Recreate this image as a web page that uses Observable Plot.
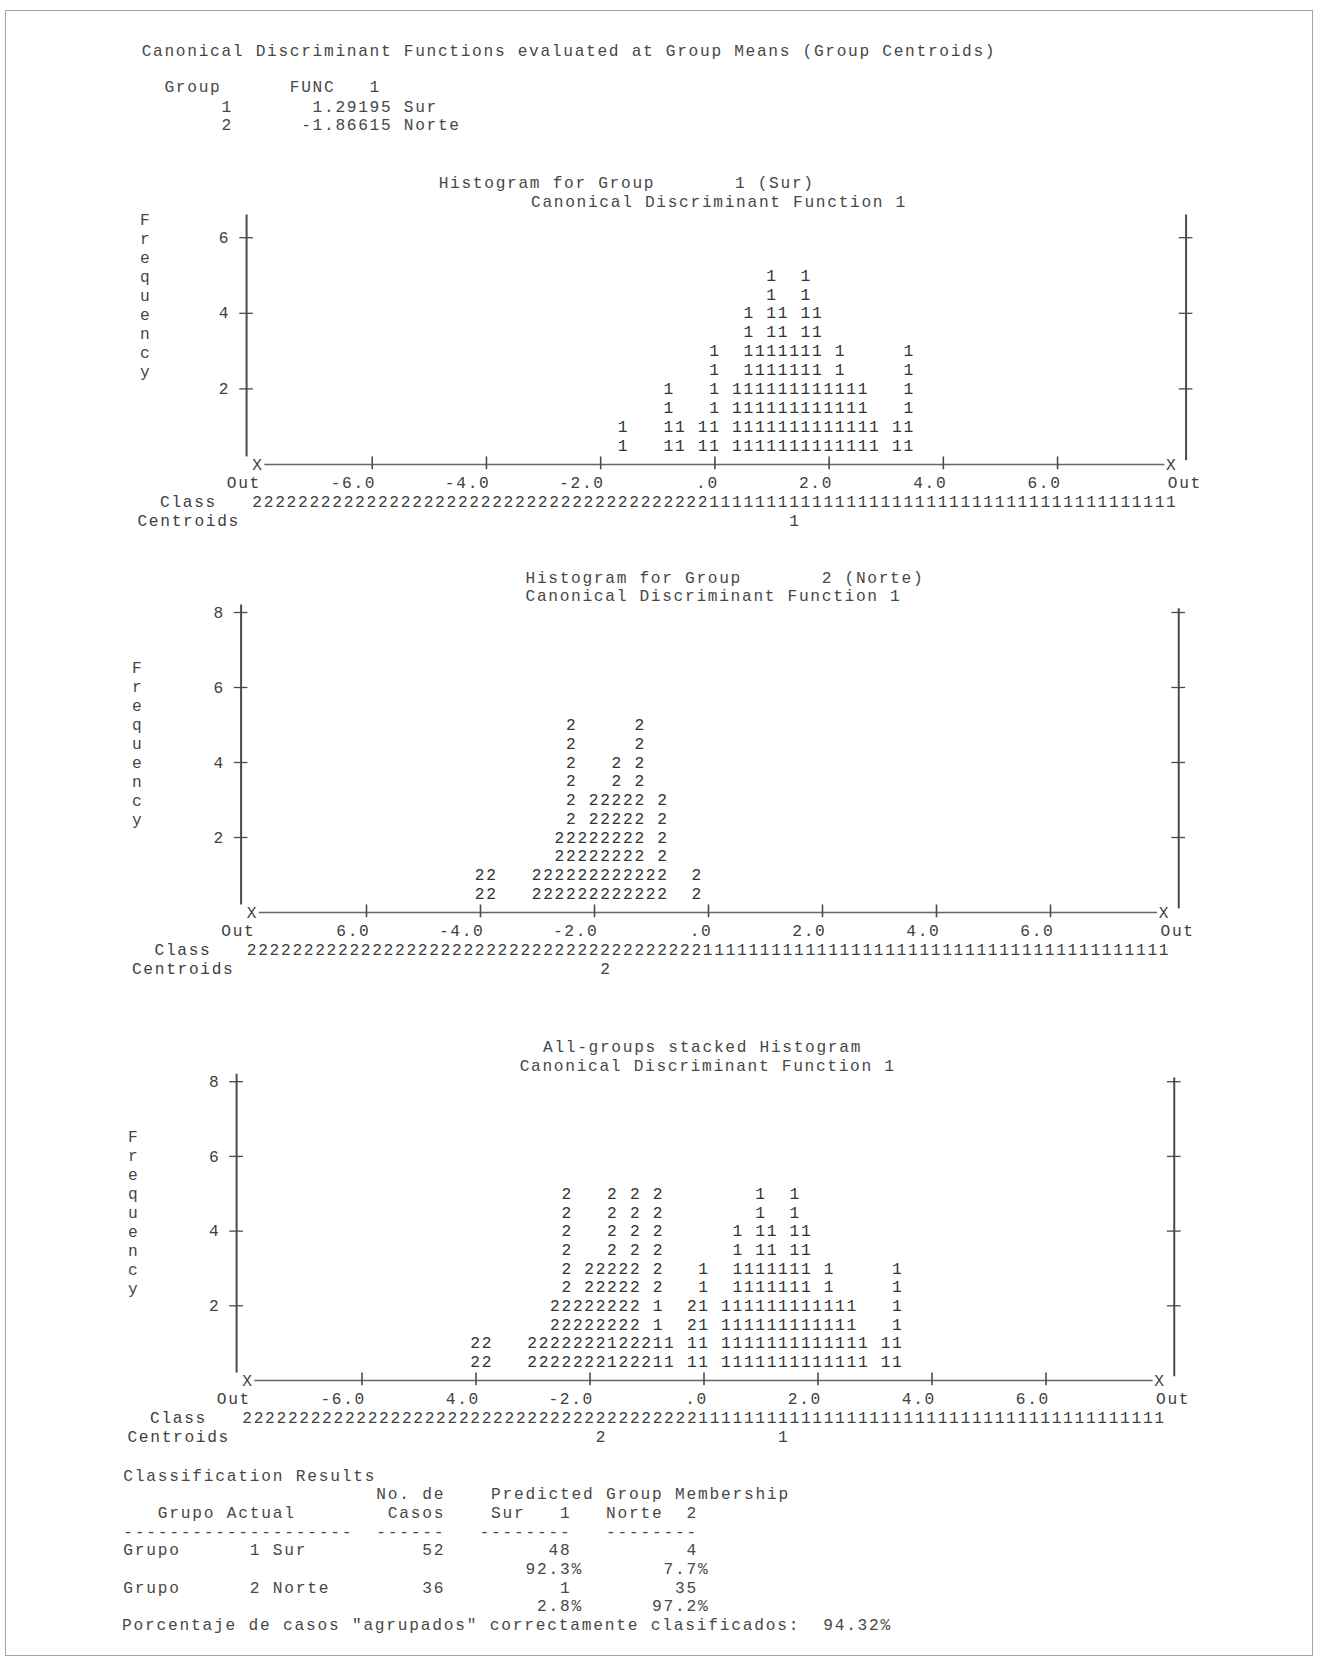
<!DOCTYPE html>
<html>
<head>
<meta charset="utf-8">
<script src="https://cdn.jsdelivr.net/npm/d3@7"></script>
<script src="https://cdn.jsdelivr.net/npm/@observablehq/plot@0.6"></script>
<style>
  html, body { margin: 0; padding: 0; background: #fff; }
  #page { position: relative; width: 1332px; height: 1661px; overflow: hidden; background: #fff;
          font-family: "Liberation Mono", "DejaVu Sans Mono", monospace; font-size: 16.2px; color: #474747; }
  .t { position: absolute; white-space: pre; line-height: 18px; letter-spacing: 1.68px; }
  .tab { letter-spacing: 1.78px; }
  .freq { position: absolute; white-space: pre; line-height: 19px; }
  .frame { position: absolute; left: 5px; top: 10px; width: 1306px; height: 1644px; border: 1.5px solid #a4a4a4; }
  .hist { position: absolute; left: 0; }
  .hist svg { background: transparent !important; }
  .hist text { letter-spacing: 1.68px; }
</style>
</head>
<body>
<div id="page"><div class="frame"></div></div>
<script>
// ---------------- data ----------------
const groupIds = [1, 2];
const groupNames = ["Sur", "Norte"];
const centroidValues = [1.29195, -1.86615];

// Histogram for group 1 (Sur): bin position on function 1, number of cases
const surBins = [-1.6, -0.8, -0.6, -0.2, 0.0, 0.4, 0.6, 0.8, 1.0, 1.2, 1.4, 1.6, 1.8, 2.0, 2.2, 2.4, 2.6, 2.8, 3.2, 3.4];
const surFreq = [1, 2, 1, 1, 3, 2, 4, 3, 5, 4, 3, 5, 4, 2, 3, 2, 2, 1, 1, 3];
// Histogram for group 2 (Norte)
const norteBins = [-4.0, -3.8, -3.0, -2.8, -2.6, -2.4, -2.2, -2.0, -1.8, -1.6, -1.4, -1.2, -1.0, -0.8, -0.2];
const norteFreq = [1, 1, 1, 1, 2, 5, 2, 3, 3, 4, 3, 5, 1, 3, 1];

const xTicks = [-6, -4, -2, 0, 2, 4, 6];
const xTickLabels1 = ["-6.0", "-4.0", "-2.0", ".0", "2.0", "4.0", "6.0"];
const xTickLabels2 = ["6.0", "-4.0", "-2.0", ".0", "2.0", "4.0", "6.0"];
const xTickLabels3 = ["-6.0", "4.0", "-2.0", ".0", "2.0", "4.0", "6.0"];
const yTicks1 = [2, 4, 6];
const yTicks23 = [2, 4, 6, 8];
const classLine = "222222222222222222222222222222222222222211111111111111111111111111111111111111111";

// Classification results
const actualGroups = ["1 Sur", "2 Norte"];
const nCases = [52, 36];
const predCounts = [[48, 4], [1, 35]];
const predPct = [["92.3%", "7.7%"], ["2.8%", "97.2%"]];
const overallPct = "94.32%";

// ---------------- helpers ----------------
const page = document.getElementById("page");
const INK = "#404040";
const LINE = "#4a4a4a";
const FONT = "Liberation Mono, DejaVu Sans Mono, monospace";
const FS = 16.2;

function addText(str, left, yCenter, extra) {
  const d = document.createElement("div");
  d.className = "t" + (extra ? " " + extra : "");
  d.textContent = str;
  d.style.left = left + "px";
  d.style.top = (yCenter - 7) + "px";
  page.appendChild(d);
  return d;
}
function pad(n, w) { return String(n).padStart(w, " "); }

// header
addText("Canonical Discriminant Functions evaluated at Group Means (Group Centroids)", 141.7, 50);
addText("  Group      FUNC   1", 141.7, 86);
groupIds.forEach((g, i) => {
  const v = centroidValues[i].toFixed(5);
  addText("       " + g + pad(v, 14) + " " + groupNames[i], 141.7, 105.5 + i * 18.7);
});

// stacked cell builder (each case = two printed rows)
function buildCells(stacks) {
  const out = [];
  const level = new Map();
  for (const s of stacks) {
    s.bins.forEach((b, i) => {
      const k = b.toFixed(1);
      let l = level.get(k) || 0;
      for (let j = 0; j < s.freq[i]; j++) {
        l++;
        out.push({x: b, y: l - 0.5, s: s.sym});
        out.push({x: b, y: l, s: s.sym});
      }
      level.set(k, l);
    });
  }
  return out;
}

function hist(o) {
  const ax = -8.2, bx = 8.25;
  const fs = FS;
  const classChars = classLine.split("");
  const T = (extra) => Object.assign({fontSize: fs, fontFamily: FONT, fill: INK}, extra);
  const marks = [
    Plot.ruleX([ax], {y1: () => 0.2, y2: () => o.leftTop, stroke: LINE, strokeWidth: 2}),
    Plot.ruleX([bx], {y1: () => 0.1, y2: () => o.rightTop, stroke: LINE, strokeWidth: 2}),
    Plot.ruleY(o.yTicks, {y: d => d, x1: () => ax - 0.12, x2: () => ax + 0.12, stroke: LINE, strokeWidth: 1.3}),
    Plot.ruleY(o.yTicks, {y: d => d, x1: () => bx - 0.12, x2: () => bx + 0.12, stroke: LINE, strokeWidth: 1.3}),
    Plot.text(o.yTicks, T({x: () => ax, y: d => d, text: d => String(d), dx: -22})),
    Plot.ruleY([0], {x1: () => -7.88, x2: () => 7.88, stroke: LINE, strokeWidth: 1.5, strokeOpacity: 0.85}),
    Plot.ruleX(xTicks, {x: d => d, y1: () => -0.14, y2: () => 0.2, stroke: LINE, strokeWidth: 1.6}),
    Plot.text([-8, 8], T({x: d => d, y: () => 0, text: () => "X"})),
    Plot.text(xTicks, T({x: d => d, y: () => 0, text: (d, i) => o.tickLabels[i], textAnchor: "end", dx: 4, dy: o.dyOut})),
    Plot.text(["Out"], T({x: () => -8, y: () => 0, text: d => d, textAnchor: "end", dx: 3, dy: o.dyOut})),
    Plot.text(["Out"], T({x: () => 8, y: () => 0, text: d => d, textAnchor: "start", dx: -4, dy: o.dyOut})),
    Plot.text(["Class"], T({x: () => -8, y: () => 0, text: d => d, textAnchor: "end", dx: -41, dy: o.dyClass})),
    Plot.text(classChars, T({x: (d, i) => -8 + 0.2 * i, y: () => 0, text: d => d, dy: o.dyClass})),
    Plot.text(["Centroids"], T({x: () => -8, y: () => 0, text: d => d, textAnchor: "end", dx: -18, dy: o.dyCent})),
    Plot.text(o.centroids, T({x: d => Math.ceil(centroidValues[d - 1] / 0.2 - 1e-9) * 0.2, y: () => 0, text: d => String(d), dy: o.dyCent})),
    Plot.text(o.cells, T({x: "x", y: "y", text: "s", fill: "#333"}))
  ];
  const svg = Plot.plot({
    width: 1332,
    height: o.height,
    marginTop: 0, marginRight: 0, marginBottom: 0, marginLeft: 0,
    x: {domain: [-8, 8], range: [o.x0, o.x8], axis: null},
    y: {domain: [0, 8], range: [o.y0, o.y0 - 8 * o.unit], axis: null},
    style: {fontFamily: FONT, fontSize: FS + "px", color: INK, background: "transparent", overflow: "visible"},
    marks
  });
  const wrap = document.createElement("div");
  wrap.className = "hist";
  wrap.style.top = o.top + "px";
  wrap.appendChild(svg);
  page.appendChild(wrap);
}

function freqLabel(left, firstCenter) {
  const d = document.createElement("div");
  d.className = "freq";
  d.textContent = "Frequency".split("").join("\n");
  d.style.left = left + "px";
  d.style.top = (firstCenter - 9.5) + "px";
  page.appendChild(d);
}

// ---------------- histogram 1 ----------------
addText("Histogram for Group       1 (Sur)", 438.7, 182);
addText("Canonical Discriminant Function 1", 531, 201);
freqLabel(140, 221);
hist({top: 206, height: 330, x0: 257.5, x8: 1171.3, y0: 258, unit: 37.8,
      yTicks: yTicks1, leftTop: 6.6, rightTop: 6.6, tickLabels: xTickLabels1,
      dyOut: 18.8, dyClass: 37.6, dyCent: 56.4, centroids: [1],
      cells: buildCells([{bins: surBins, freq: surFreq, sym: "1"}])});

// ---------------- histogram 2 ----------------
addText("Histogram for Group       2 (Norte)", 525.5, 576.5);
addText("Canonical Discriminant Function 1", 525.5, 595.3);
freqLabel(132, 669.5);
hist({top: 600, height: 385, x0: 252, x8: 1164, y0: 312, unit: 37.5,
      yTicks: yTicks23, leftTop: 8.2, rightTop: 8.1, tickLabels: xTickLabels2,
      dyOut: 18.8, dyClass: 37.6, dyCent: 56.4, centroids: [2],
      cells: buildCells([{bins: norteBins, freq: norteFreq, sym: "2"}])});

// ---------------- histogram 3 (stacked) ----------------
addText("All-groups stacked Histogram", 543, 1046);
addText("Canonical Discriminant Function 1", 519.7, 1065);
freqLabel(128, 1138);
hist({top: 1072, height: 383, x0: 247.5, x8: 1159.5, y0: 308, unit: 37.35,
      yTicks: yTicks23, leftTop: 8.2, rightTop: 8.1, tickLabels: xTickLabels3,
      dyOut: 18.8, dyClass: 37.6, dyCent: 56.4, centroids: [2, 1],
      cells: buildCells([{bins: surBins, freq: surFreq, sym: "1"}, {bins: norteBins, freq: norteFreq, sym: "2"}])});

// ---------------- classification table ----------------
const TX = 123.3, TY = 1474.5, LH = 18.7;
addText("Classification Results", TX, TY, "tab");
addText(" ".repeat(22) + "No. de    Predicted Group Membership", TX, TY + LH, "tab");
addText("   Grupo Actual        Casos    Sur   1   Norte  2", TX, TY + 2 * LH, "tab");
addText("-".repeat(20) + "  " + "-".repeat(6) + "   " + "-".repeat(8) + "   " + "-".repeat(8), TX, TY + 3 * LH, "tab");
actualGroups.forEach((g, i) => {
  const y = TY + (4 + 2 * i) * LH;
  const row = "Grupo      " + g.padEnd(7, " ");
  const line = row.padEnd(26, " ") + pad(nCases[i], 2) + pad(predCounts[i][0], 11) + pad(predCounts[i][1], 11);
  addText(line, TX, y, "tab");
  const pl = " ".repeat(40 - predPct[i][0].length) + predPct[i][0] + pad(predPct[i][1], 11);
  addText(pl, TX, y + LH, "tab");
});
addText('Porcentaje de casos "agrupados" correctamente clasificados:  ' + overallPct, 122, TY + 8 * LH, "tab");
</script>
</body>
</html>
